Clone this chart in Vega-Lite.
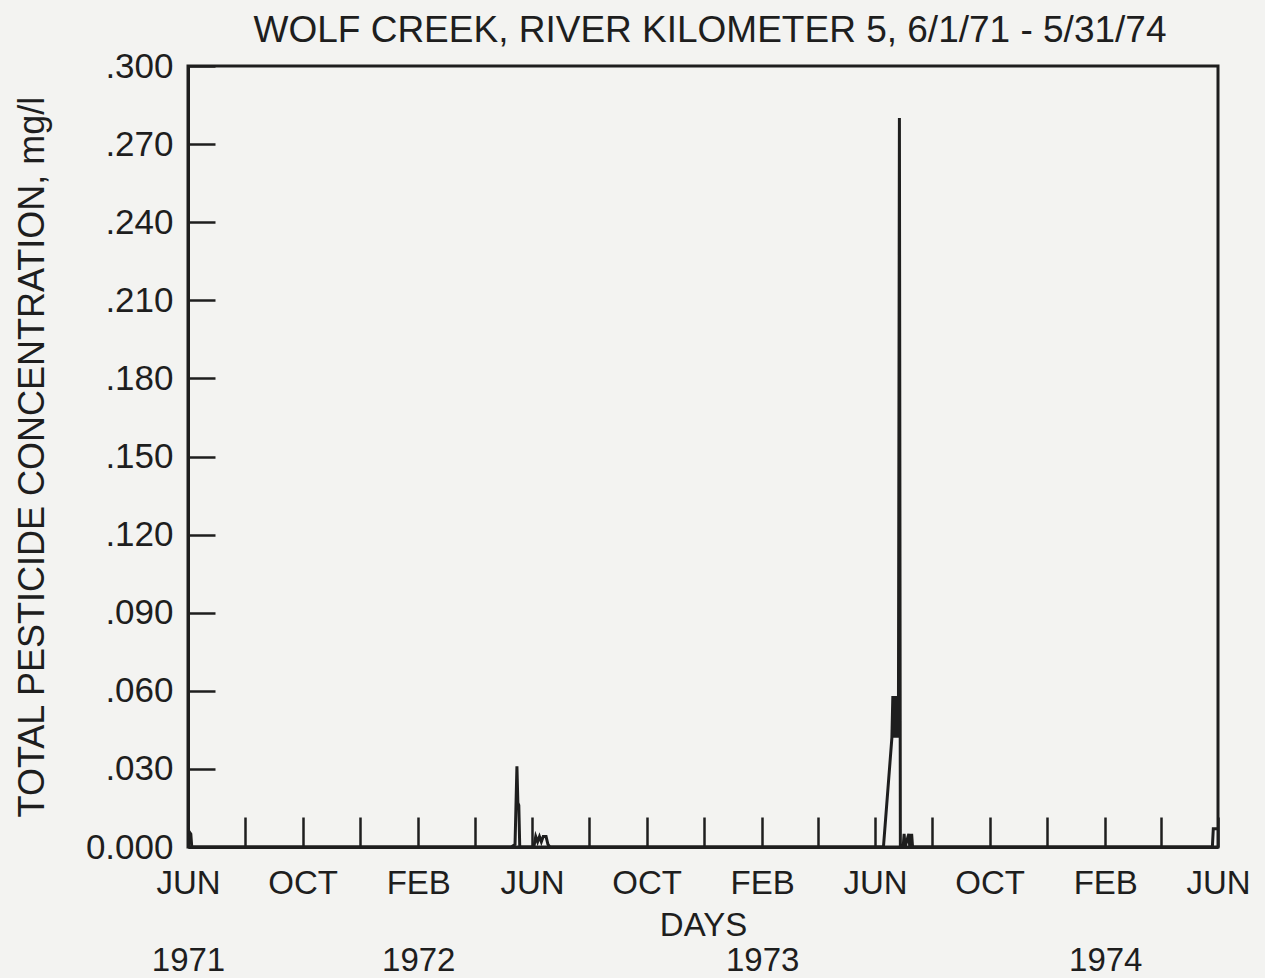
{
  "$schema": "https://vega.github.io/schema/vega-lite/v6.json",
  "autosize": "none",
  "width": 1030,
  "height": 781,
  "padding": {"left": 188, "top": 66, "right": 47, "bottom": 131},
  "background": "#f3f3f1",
  "title": {
    "text": "WOLF CREEK, RIVER KILOMETER 5,  6/1/71 - 5/31/74",
    "font": "Liberation Sans",
    "fontSize": 37,
    "fontWeight": "normal",
    "color": "#1e1e1e",
    "offset": -1,
    "dx": 7
  },
  "data": {
    "values": [
      {"date": "1971-06-01", "value": 0.007},
      {"date": "1971-06-02", "value": 0.006},
      {"date": "1971-06-04", "value": 0.005},
      {"date": "1971-06-05", "value": 0.0},
      {"date": "1972-05-10", "value": 0.0},
      {"date": "1972-05-14", "value": 0.001},
      {"date": "1972-05-16", "value": 0.031},
      {"date": "1972-05-17", "value": 0.017},
      {"date": "1972-05-18", "value": 0.016},
      {"date": "1972-05-19", "value": 0.0},
      {"date": "1972-06-03", "value": 0.0},
      {"date": "1972-06-05", "value": 0.004},
      {"date": "1972-06-07", "value": 0.002},
      {"date": "1972-06-09", "value": 0.004},
      {"date": "1972-06-11", "value": 0.002},
      {"date": "1972-06-13", "value": 0.004},
      {"date": "1972-06-16", "value": 0.004},
      {"date": "1972-06-18", "value": 0.001},
      {"date": "1972-06-20", "value": 0.0},
      {"date": "1973-06-10", "value": 0.0},
      {"date": "1973-06-19", "value": 0.042},
      {"date": "1973-06-20", "value": 0.058},
      {"date": "1973-06-21", "value": 0.042},
      {"date": "1973-06-22", "value": 0.058},
      {"date": "1973-06-23", "value": 0.042},
      {"date": "1973-06-24", "value": 0.058},
      {"date": "1973-06-25", "value": 0.042},
      {"date": "1973-06-26", "value": 0.058},
      {"date": "1973-06-27", "value": 0.28},
      {"date": "1973-06-28", "value": 0.0},
      {"date": "1973-07-01", "value": 0.0},
      {"date": "1973-07-02", "value": 0.005},
      {"date": "1973-07-03", "value": 0.0},
      {"date": "1973-07-07", "value": 0.005},
      {"date": "1973-07-08", "value": 0.0},
      {"date": "1973-07-10", "value": 0.005},
      {"date": "1973-07-11", "value": 0.0},
      {"date": "1974-05-26", "value": 0.0},
      {"date": "1974-05-27", "value": 0.007},
      {"date": "1974-05-31", "value": 0.007}
    ]
  },
  "mark": {"type": "line", "color": "#1e1e1e", "strokeWidth": 3, "clip": true},
  "encoding": {
    "x": {
      "field": "date",
      "type": "temporal",
      "scale": {"type": "utc", "domain": [{"year": 1971, "month": 6, "date": 1, "utc": true}, {"year": 1974, "month": 6, "date": 1, "utc": true}], "nice": false},
      "axis": {
        "title": "DAYS",
        "titleFont": "Liberation Sans",
        "titleFontSize": 33,
        "titleFontWeight": "normal",
        "titleColor": "#1e1e1e",
        "titleBaseline": "middle",
        "titleY": 78,
        "values": [
          {"year": 1971, "month": 6, "date": 1, "utc": true},
          {"year": 1971, "month": 8, "date": 1, "utc": true},
          {"year": 1971, "month": 10, "date": 1, "utc": true},
          {"year": 1971, "month": 12, "date": 1, "utc": true},
          {"year": 1972, "month": 2, "date": 1, "utc": true},
          {"year": 1972, "month": 4, "date": 1, "utc": true},
          {"year": 1972, "month": 6, "date": 1, "utc": true},
          {"year": 1972, "month": 8, "date": 1, "utc": true},
          {"year": 1972, "month": 10, "date": 1, "utc": true},
          {"year": 1972, "month": 12, "date": 1, "utc": true},
          {"year": 1973, "month": 2, "date": 1, "utc": true},
          {"year": 1973, "month": 4, "date": 1, "utc": true},
          {"year": 1973, "month": 6, "date": 1, "utc": true},
          {"year": 1973, "month": 8, "date": 1, "utc": true},
          {"year": 1973, "month": 10, "date": 1, "utc": true},
          {"year": 1973, "month": 12, "date": 1, "utc": true},
          {"year": 1974, "month": 2, "date": 1, "utc": true},
          {"year": 1974, "month": 4, "date": 1, "utc": true},
          {"year": 1974, "month": 6, "date": 1, "utc": true}
        ],
        "labelExpr": "(utcmonth(datum.value)==5 && utcyear(datum.value)==1971) ? ['JUN', '1971'] : utcmonth(datum.value)==1 ? ['FEB', '' + utcyear(datum.value)] : utcmonth(datum.value)==5 ? 'JUN' : utcmonth(datum.value)==9 ? 'OCT' : ''",
        "labelFont": "Liberation Sans",
        "labelFontSize": 33,
        "labelColor": "#1e1e1e",
        "labelLineHeight": 77,
        "labelOverlap": false,
        "labelFlush": false,
        "labelBound": false,
        "labelPadding": 50,
        "labelBaseline": "top",
        "tickSize": -30,
        "tickWidth": 2.5,
        "tickColor": "#1e1e1e",
        "domain": true,
        "domainColor": "#1e1e1e",
        "domainWidth": 3,
        "grid": false
      }
    },
    "y": {
      "field": "value",
      "type": "quantitative",
      "scale": {"domain": [0, 0.3], "nice": false, "zero": true},
      "axis": {
        "title": "TOTAL PESTICIDE CONCENTRATION, mg/l",
        "titleFont": "Liberation Sans",
        "titleFontSize": 36,
        "titleFontWeight": "normal",
        "titleColor": "#1e1e1e",
        "titlePadding": 34,
        "values": [0, 0.03, 0.06, 0.09, 0.12, 0.15, 0.18, 0.21, 0.24, 0.27, 0.3],
        "labelExpr": "datum.value == 0 ? '0.000' : replace(format(datum.value, '.3f'), '0.', '.')",
        "labelFont": "Liberation Sans",
        "labelFontSize": 35,
        "labelColor": "#1e1e1e",
        "labelOverlap": false,
        "labelFlush": false,
        "labelBound": false,
        "labelPadding": 42,
        "tickSize": -27,
        "tickWidth": 2.5,
        "tickColor": "#1e1e1e",
        "domain": true,
        "domainColor": "#1e1e1e",
        "domainWidth": 3,
        "grid": false
      }
    }
  },
  "config": {
    "view": {"stroke": "#1e1e1e", "strokeWidth": 3}
  }
}
